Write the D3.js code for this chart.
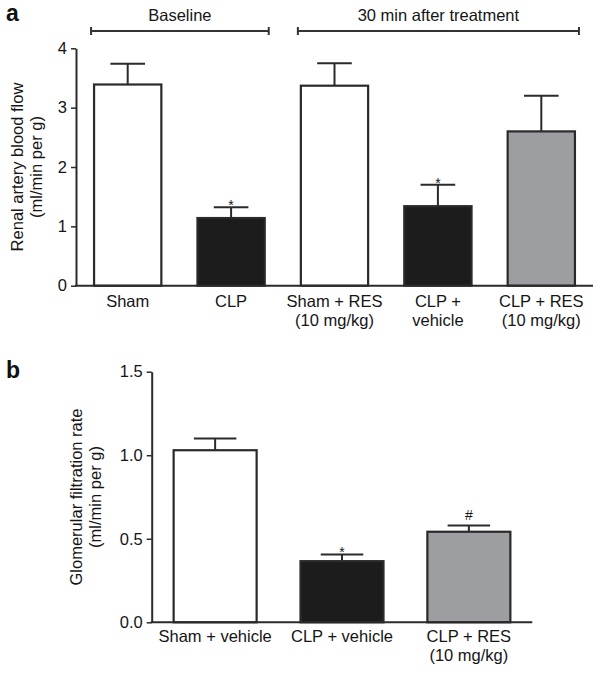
<!DOCTYPE html>
<html>
<head>
<meta charset="utf-8">
<script src="https://cdn.jsdelivr.net/npm/d3@7"></script>
<style>
  body { margin: 0; background: #fff; }
  svg { display: block; font-family: "Liberation Sans", Arial, Helvetica, sans-serif; }
</style>
</head>
<body>
<svg id="chart" width="601" height="674"></svg>
<script>
// ---- Panel a data ----
const catsA = ["Sham", "CLP", "Sham + RES\n(10 mg/kg)", "CLP +\nvehicle", "CLP + RES\n(10 mg/kg)"];
const valsA = [3.39, 1.14, 3.37, 1.34, 2.60];
const semA  = [0.35, 0.18, 0.38, 0.36, 0.60];
const marksA = ["", "*", "", "*", ""];
const fillA = ["white", "black", "white", "black", "gray"];
const ticksA = [0, 1, 2, 3, 4];
const groupsA = [
  { label: "Baseline", from: 0, to: 1 },
  { label: "30 min after treatment", from: 2, to: 4 }
];
const titleA = ["Renal artery blood flow", "(ml/min per g)"];

// ---- Panel b data ----
const catsB = ["Sham + vehicle", "CLP + vehicle", "CLP + RES\n(10 mg/kg)"];
const valsB = [1.03, 0.366, 0.542];
const semB  = [0.07, 0.04, 0.038];
const marksB = ["", "*", "#"];
const fillB = ["white", "black", "gray"];
const ticksB = [0, 0.5, 1.0, 1.5];
const titleB = ["Glomerular filtration rate", "(ml/min per g)"];

const colors = { white: "#ffffff", black: "#1c1c1c", gray: "#9d9ea1" };
const ink = "#2a2a2a";
const txt = "#151515";
const FS = 16.5;

const svg = d3.select("#chart");

function panel(opts) {
  const g = svg.append("g");
  const x = d3.scaleBand().domain(opts.cats).range([opts.x0, opts.x1])
    .paddingInner(0.33).paddingOuter(0.165);
  const y = d3.scaleLinear().domain(opts.domain).range([opts.yBottom, opts.yTop]);

  // y axis
  const ya = g.append("g").attr("transform", `translate(${opts.x0},0)`)
    .call(d3.axisLeft(y).tickValues(opts.ticks).tickFormat(opts.fmt).tickSize(5).tickSizeOuter(0).tickPadding(4));
  ya.select(".domain").attr("stroke", ink).attr("stroke-width", 2);
  ya.selectAll(".tick line").attr("stroke", ink).attr("stroke-width", 1.5);
  ya.selectAll(".tick text").attr("font-size", FS).attr("fill", txt)
    .attr("font-family", "'Liberation Sans', Arial, sans-serif");

  // y title
  const cy = (opts.yTop + opts.yBottom) / 2;
  opts.title.forEach((t, i) => {
    g.append("text")
      .attr("transform", `translate(${opts.titleX + i * 19},${cy}) rotate(-90)`)
      .attr("text-anchor", "middle").attr("font-size", FS).attr("fill", txt)
      .text(t);
  });

  // bars
  const bw = x.bandwidth();
  opts.cats.forEach((c, i) => {
    const v = opts.vals[i], e = opts.sem[i];
    const cx = x(c) + bw / 2;
    // error bar
    g.append("line").attr("x1", cx).attr("x2", cx).attr("y1", y(v)).attr("y2", y(v + e))
      .attr("stroke", ink).attr("stroke-width", 2);
    g.append("line").attr("x1", cx - bw / 4).attr("x2", cx + bw / 4).attr("y1", y(v + e)).attr("y2", y(v + e))
      .attr("stroke", ink).attr("stroke-width", 2);
    g.append("rect").attr("x", x(c) + 1).attr("y", y(v)).attr("width", bw - 2).attr("height", y(0) - y(v))
      .attr("fill", colors[opts.fills[i]]).attr("stroke", ink).attr("stroke-width", 2.2);
    const m = opts.marks[i];
    if (m) {
      g.append("text").attr("x", cx).attr("y", m === "#" ? y(v + e) - 5 : y(v + e) + 3)
        .attr("text-anchor", "middle").attr("font-size", 14).attr("fill", txt).text(m);
    }
    // x labels
    c.split("\n").forEach((line, j) => {
      g.append("text").attr("x", cx).attr("y", opts.yBottom + opts.labelDy + j * 19)
        .attr("text-anchor", "middle").attr("font-size", FS).attr("fill", txt).text(line);
    });
  });

  // x axis line
  g.append("line").attr("x1", opts.x0 - 1).attr("x2", opts.x1).attr("y1", opts.yBottom).attr("y2", opts.yBottom)
    .attr("stroke", ink).attr("stroke-width", 2);

  // panel letter
  g.append("text").attr("x", opts.letterX).attr("y", opts.letterY)
    .attr("font-size", 23).attr("font-weight", "bold").attr("fill", "#111").text(opts.letter);

  return { x, y, g, bw };
}

const pa = panel({
  cats: catsA, vals: valsA, sem: semA, marks: marksA, fills: fillA,
  domain: [0, 4], ticks: ticksA, fmt: d3.format("d"),
  x0: 76, x1: 593, yTop: 48.3, yBottom: 285.7,
  title: titleA, titleX: 23, labelDy: 21, letter: "a", letterX: 6, letterY: 21
});

// group brackets for panel a
groupsA.forEach(gr => {
  const xa = pa.x(catsA[gr.from]) - 2;
  const xb = pa.x(catsA[gr.to]) + pa.bw + 3;
  const yb = 31;
  pa.g.append("line").attr("x1", xa).attr("x2", xb).attr("y1", yb).attr("y2", yb)
    .attr("stroke", "#333").attr("stroke-width", 2);
  [xa, xb].forEach(xx => pa.g.append("line").attr("x1", xx).attr("x2", xx).attr("y1", yb - 4).attr("y2", yb + 4)
    .attr("stroke", "#333").attr("stroke-width", 2));
  pa.g.append("text").attr("x", (xa + xb) / 2).attr("y", 21).attr("text-anchor", "middle")
    .attr("font-size", FS).attr("fill", txt).text(gr.label);
});

const pb = panel({
  cats: catsB, vals: valsB, sem: semB, marks: marksB, fills: fillB,
  domain: [0, 1.5], ticks: ticksB, fmt: d3.format(".1f"),
  x0: 151.7, x1: 532.3, yTop: 371.7, yBottom: 622.3,
  title: titleB, titleX: 82, labelDy: 20, letter: "b", letterX: 6, letterY: 378
});
</script>
</body>
</html>
